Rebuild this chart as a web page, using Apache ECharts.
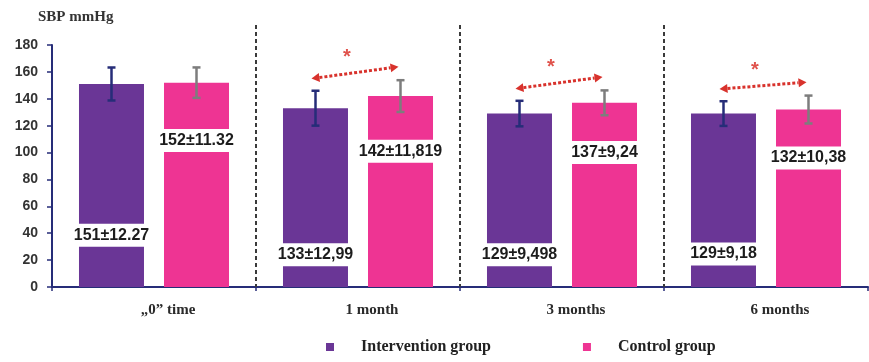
<!DOCTYPE html>
<html>
<head>
<meta charset="utf-8">
<script src="https://cdn.jsdelivr.net/npm/echarts@6/dist/echarts.min.js"></script>
<style>
  html, body { margin: 0; padding: 0; background: #fff; }
  #chart { width: 869px; height: 362px; }
</style>
</head>
<body>
<div id="chart"></div>
<script>
// ---- data ----
const categories = ['\u201E0\u201D time', '1 month', '3 months', '6 months'];
const interventionMean = [151, 133, 129, 129];
const interventionSD = [12.27, 12.99, 9.498, 9.18];
const controlMean = [152, 142, 137, 132];
const controlSD = [11.32, 11.819, 9.24, 10.38];
const decimalSep = ['.', ',', ',', ','];
const significant = [false, true, true, true];
const yTicks = { min: 0, max: 180, interval: 20 };

// ---- layout (value units where the mean±SD labels sit inside the bars) ----
const interventionLabelAt = [38.5, 24, 24, 24.5];
const controlLabelAt = [109, 101, 100, 96];

const PURPLE = '#6a3696';
const PINK = '#ee3493';
const NAVY = '#262d78';
const BAR_W = 65;
const BAR_GAP_PX = 20;
const HALF = (BAR_W + BAR_GAP_PX) / 2;

function meanSdText(m, sd, i) {
  return m + '\u00B1' + String(sd).replace('.', decimalSep[i]);
}

const chart = echarts.init(document.getElementById('chart'));

function errorBarSeries(name, means, sds, offset, color) {
  return {
    type: 'custom',
    name: name + ' SD',
    silent: true,
    z: 5,
    data: means.map((m, i) => [i, m, sds[i]]),
    renderItem: function (params, api) {
      const idx = api.value(0), m = api.value(1), sd = api.value(2);
      const top = api.coord([idx, m + sd]);
      const bot = api.coord([idx, m - sd]);
      const x = top[0] + offset;
      const cap = 4;
      const st = { stroke: color, lineWidth: 2.5 };
      return {
        type: 'group',
        children: [
          { type: 'line', shape: { x1: x, y1: top[1], x2: x, y2: bot[1] }, style: st },
          { type: 'line', shape: { x1: x - cap, y1: top[1], x2: x + cap, y2: top[1] }, style: st },
          { type: 'line', shape: { x1: x - cap, y1: bot[1], x2: x + cap, y2: bot[1] }, style: st }
        ]
      };
    }
  };
}

function valueLabelSeries(name, means, sds, at, offset) {
  return {
    type: 'custom',
    name: name + ' labels',
    silent: true,
    z: 6,
    data: means.map((m, i) => [i, at[i], m, sds[i]]),
    renderItem: function (params, api) {
      const i = params.dataIndex;
      const p = api.coord([api.value(0), api.value(1)]);
      return {
        type: 'text',
        x: p[0] + offset,
        y: p[1],
        style: {
          text: meanSdText(means[i], sds[i], i),
          align: 'center',
          verticalAlign: 'middle',
          font: 'bold 16px "Liberation Sans", Arial, sans-serif',
          fill: '#1c1c1c',
          backgroundColor: '#ffffff',
          padding: [4, 1, 3, 1]
        }
      };
    }
  };
}

const dividerSeries = {
  type: 'custom',
  name: 'dividers',
  silent: true,
  clip: false,
  z: 1,
  data: [[1], [2], [3]],
  renderItem: function (params, api) {
    const idx = api.value(0);
    const band = api.size([1, 0])[0];
    const base = api.coord([idx, 0]);
    const topY = api.coord([idx, yTicks.max])[1] - 20;
    const x = base[0] - band / 2;
    return {
      type: 'line',
      shape: { x1: x, y1: topY, x2: x, y2: base[1] },
      style: { stroke: '#3a3a3a', lineWidth: 2, lineDash: [4, 3] }
    };
  }
};

const arrowData = [];
significant.forEach((s, i) => {
  if (s) arrowData.push([i, interventionMean[i] + interventionSD[i] + 9, controlMean[i] + controlSD[i] + 10]);
});

const arrowSeries = {
  type: 'custom',
  name: 'significance',
  silent: true,
  clip: false,
  z: 7,
  data: arrowData,
  renderItem: function (params, api) {
    const idx = api.value(0);
    const a = api.coord([idx, api.value(1)]);
    const b = api.coord([idx, api.value(2)]);
    const p1 = [a[0] - HALF - 4, a[1]];
    const p2 = [b[0] + HALF - 2, b[1]];
    const dx = p2[0] - p1[0], dy = p2[1] - p1[1];
    const len = Math.sqrt(dx * dx + dy * dy);
    const ux = dx / len, uy = dy / len;
    const nx = -uy, ny = ux;
    const L = 8, W = 4.5;
    const red = '#d8322c';
    const head = (tip, dir) => ({
      type: 'polygon',
      shape: {
        points: [
          tip,
          [tip[0] + dir * ux * L + nx * W, tip[1] + dir * uy * L + ny * W],
          [tip[0] + dir * ux * L - nx * W, tip[1] + dir * uy * L - ny * W]
        ]
      },
      style: { fill: red }
    });
    const mid = [(p1[0] + p2[0]) / 2 - 8, (p1[1] + p2[1]) / 2 - 15];
    return {
      type: 'group',
      children: [
        {
          type: 'line',
          shape: { x1: p1[0] + ux * L, y1: p1[1] + uy * L, x2: p2[0] - ux * L, y2: p2[1] - uy * L },
          style: { stroke: red, lineWidth: 3, lineDash: [3, 2] }
        },
        head(p1, 1),
        head(p2, -1),
        {
          type: 'text',
          x: mid[0],
          y: mid[1],
          style: {
            text: '*',
            align: 'center',
            verticalAlign: 'middle',
            font: 'bold 20px "Liberation Sans", Arial, sans-serif',
            fill: '#e0534c'
          }
        }
      ]
    };
  }
};

const option = {
  animation: false,
  backgroundColor: '#ffffff',
  grid: { left: 52, right: 1, top: 45, bottom: 75, containLabel: false },
  graphic: [{
    type: 'text',
    left: 38,
    top: 10,
    style: {
      text: 'SBP mmHg',
      font: 'bold 15px "Liberation Serif", "Times New Roman", serif',
      fill: '#333333'
    }
  }],
  legend: {
    data: ['Intervention group', 'Control group'],
    left: 321,
    top: 334,
    icon: 'rect',
    itemWidth: 8,
    itemHeight: 8,
    itemGap: 92,
    textStyle: {
      fontFamily: '"Liberation Serif", "Times New Roman", serif',
      fontWeight: 'bold',
      fontSize: 16,
      color: '#222222',
      padding: [0, 0, 0, 22]
    }
  },
  xAxis: {
    type: 'category',
    data: categories,
    boundaryGap: true,
    axisLine: { lineStyle: { color: NAVY, width: 2 } },
    axisTick: { show: true, length: 4, lineStyle: { color: NAVY, width: 1.5 } },
    axisLabel: {
      margin: 16,
      padding: [0, 0, 0, 28],
      fontFamily: '"Liberation Serif", "Times New Roman", serif',
      fontWeight: 'bold',
      fontSize: 15,
      color: '#2a2a2a'
    },
    splitLine: { show: false }
  },
  yAxis: {
    type: 'value',
    min: yTicks.min,
    max: yTicks.max,
    interval: yTicks.interval,
    axisLine: { show: true, lineStyle: { color: NAVY, width: 2 } },
    axisTick: { show: true, length: 5, lineStyle: { color: NAVY, width: 1.5 } },
    axisLabel: {
      margin: 14,
      fontFamily: '"Liberation Sans", Arial, sans-serif',
      fontWeight: 'bold',
      fontSize: 14,
      color: '#333333'
    },
    splitLine: { show: false }
  },
  series: [
    dividerSeries,
    {
      type: 'bar',
      name: 'Intervention group',
      data: interventionMean,
      barWidth: BAR_W,
      barGap: (BAR_GAP_PX / BAR_W * 100).toFixed(1) + '%',
      itemStyle: { color: PURPLE },
      z: 2
    },
    {
      type: 'bar',
      name: 'Control group',
      data: controlMean,
      barWidth: BAR_W,
      itemStyle: { color: PINK },
      z: 2
    },
    errorBarSeries('Intervention group', interventionMean, interventionSD, -HALF, NAVY),
    errorBarSeries('Control group', controlMean, controlSD, HALF, '#7d7d7d'),
    valueLabelSeries('Intervention group', interventionMean, interventionSD, interventionLabelAt, -HALF),
    valueLabelSeries('Control group', controlMean, controlSD, controlLabelAt, HALF),
    arrowSeries
  ]
};

chart.setOption(option);
</script>
</body>
</html>
